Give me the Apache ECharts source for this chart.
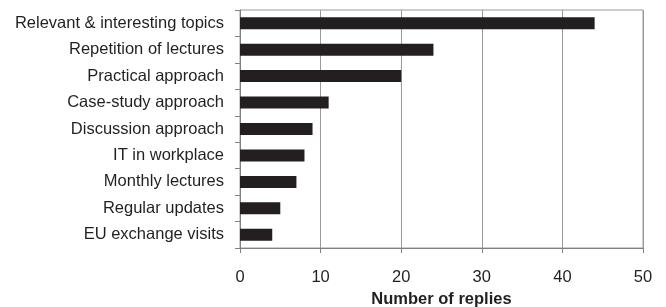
<!DOCTYPE html>
<html>
<head>
<meta charset="utf-8">
<script src="https://cdn.jsdelivr.net/npm/echarts@6/dist/echarts.min.js"></script>
<style>
html, body { margin: 0; padding: 0; background: #fff; }
#chart { width: 666px; height: 307px; }
</style>
</head>
<body>
<div id="chart"></div>
<script>
var categories = ['Relevant & interesting topics', 'Repetition of lectures', 'Practical approach',
	'Case-study approach', 'Discussion approach', 'IT in workplace', 'Monthly lectures',
	'Regular updates', 'EU exchange visits'];
var replies = [44, 24, 20, 11, 9, 8, 7, 5, 4];

var chart = echarts.init(document.getElementById('chart'));

var font = 'Liberation Sans, Arial, sans-serif';

var option = {
	animation: false,
	grid: {
		left: 240,
		right: 23,
		top: 10,
		bottom: 59,
		outerBoundsMode: 'none',
		containLabel: false,
		show: true,
		borderColor: '#9a9a9a',
		borderWidth: 1
	},
	xAxis: {
		type: 'value',
		min: 0,
		max: 50,
		interval: 10,
		name: 'Number of replies',
		nameLocation: 'middle',
		nameGap: 41,
		nameTextStyle: { fontFamily: font, fontSize: 16.5, fontWeight: 'bold', color: '#231f20' },
		axisLine: { show: true, lineStyle: { color: '#808080' } },
		axisTick: { show: true, length: 5, lineStyle: { color: '#808080' } },
		axisLabel: { fontFamily: font, fontSize: 16.5, color: '#231f20', margin: 21 },
		splitLine: { show: true, lineStyle: { color: '#9a9a9a', width: 1 } }
	},
	yAxis: {
		type: 'category',
		data: categories,
		inverse: true,
		axisLine: { show: true, lineStyle: { color: '#808080' } },
		axisTick: { show: true, length: 5, lineStyle: { color: '#808080' } },
		axisLabel: { fontFamily: font, fontSize: 16.5, color: '#231f20', margin: 16 },
		splitLine: { show: false }
	},
	series: [{
		type: 'bar',
		data: replies,
		barWidth: 12,
		itemStyle: { color: '#231f20' }
	}]
};

chart.setOption(option);
</script>
</body>
</html>
